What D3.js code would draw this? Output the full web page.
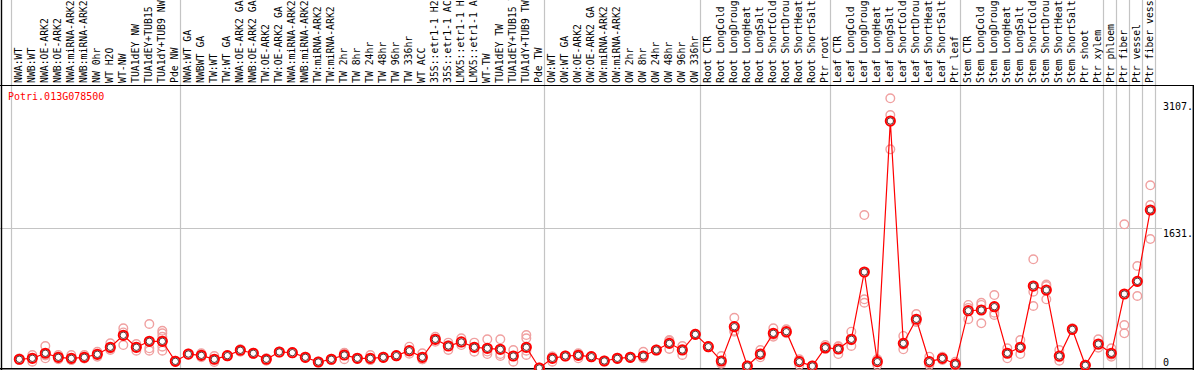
<!DOCTYPE html>
<html><head><meta charset="utf-8">
<script src="https://cdn.jsdelivr.net/npm/d3@7"></script>
<style>
html,body{margin:0;padding:0;background:#fff;}
svg{display:block;}
text{font-family:"DejaVu Sans Mono",monospace;}
</style></head>
<body>
<script>
const geneId = "Potri.013G078500";
const categories = [
"NWA:WT","NWB:WT","NWA:OE-ARK2","NWB:OE-ARK2","NWA:miRNA-ARK2","NWB:miRNA-ARK2","NW 0hr","WT H2O","WT-NW","TUA1dEY NW","TUA1dEY+TUB15 NW","TUA1dY+TUB9 NW","Pde NW",
"NWA:WT GA","NWBWT GA","TW:WT","TW:WT GA","NWA:OE-ARK2 GA","NWB:OE-ARK2 GA","TW:OE-ARK2","TW:OE-ARK2 GA","NWA:miRNA-ARK2 GA","NWB:miRNA-ARK2 GA","TW:miRNA-ARK2","TW:miRNA-ARK2 GA","TW 2hr","TW 8hr","TW 24hr","TW 48hr","TW 96hr","TW 336hr","WT ACC","35S::etr1-1 H2O","35S::etr1-1 ACC","LMX5::etr1-1 H2O","LMX5::etr1-1 ACC","WT-TW","TUA1dEY TW","TUA1dEY+TUB15 TW","TUA1dY+TUB9 TW","Pde TW",
"OW:WT","OW:WT GA","OW:OE-ARK2","OW:OE-ARK2 GA","OW:miRNA-ARK2","OW:miRNA-ARK2 GA","OW 2hr","OW 8hr","OW 24hr","OW 48hr","OW 96hr","OW 336hr",
"Root CTR","Root LongCold","Root LongDrought","Root LongHeat","Root LongSalt","Root ShortCold","Root ShortDrought","Root ShortHeat","Root ShortSalt","Ptr root",
"Leaf CTR","Leaf LongCold","Leaf LongDrought","Leaf LongHeat","Leaf LongSalt","Leaf ShortCold","Leaf ShortDrought","Leaf ShortHeat","Leaf ShortSalt","Ptr leaf",
"Stem CTR","Stem LongCold","Stem LongDrought","Stem LongHeat","Stem LongSalt","Stem ShortCold","Stem ShortDrought","Stem ShortHeat","Stem ShortSalt","Ptr shoot","Ptr xylem",
"Ptr phloem","Ptr fiber","Ptr vessel","Ptr fiber vessel"
];
const groupSizes = [13,28,12,10,10,11,1,1,1,1];
const means = [
102,113,172,125,113,125,160,242,382,242,312,312,78,
163,148,102,144,207,172,102,187,179,125,70,102,152,113,113,125,144,202,125,335,257,304,242,230,218,140,242,0,
113,140,148,132,82,113,125,140,210,288,210,393,
249,82,482,23,163,405,424,74,23,237,
222,335,1121,74,2884,288,569,74,113,47,
669,677,716,172,242,957,911,140,452,32,280,
172,864,1012,1845
];
const replicates = [
[102,93,110],[152,74,113],[257,113,146],[152,102,121],[152,93,94],[152,113,110],[190,132,158],[288,210,228],[463,268,415],[280,202,244],[514,230,202],[435,405,365,249,202],[78,72,84],
[163,158,168],[172,125,147],[140,70,96],[144,138,150],[218,190,213],[172,165,179],[113,85,108],[190,180,191],[179,172,186],[125,120,130],[70,65,75],[102,95,109],[102,175,179],[113,108,118],[152,93,94],[125,120,130],[144,138,150],[249,190,167],[172,102,101],[365,307,333],[296,210,265],[347,268,297],[296,190,240],[335,163,192],[335,163,140],[210,74,136],[385,347,202,152],[2,0,5],
[74,130,135],[140,134,146],[113,160,171],[132,126,138],[82,76,88],[113,107,119],[125,118,132],[190,113,117],[210,203,217],[327,222,315],[257,152,221],[393,385,401],
[249,242,256],[140,55,51],[587,435,424],[23,18,28],[210,125,154],[463,365,387],[452,405,415],[102,35,85],[23,18,28],[268,222,221],
[163,250,253],[424,257,324],[1786,802,762],[102,35,85],[3149,2954,2553],[374,218,272],[630,540,537],[132,35,55],[132,93,114],[74,23,44],
[736,569,702],[762,736,522],[852,646,619],[230,113,173],[327,163,236],[1269,891,724],[957,802,974],[210,85,125],[452,440,464],[32,27,37],[335,268,237],
[230,132,154],[1678,502,405],[1191,841,1004],[2133,1903,1506]
];
const tickValues = [3107, 1631, 0];
const tickLabels = ["3107.", "1631.", "0"];
const yMax = 3293;

const W = 1194, H = 370;
const plotTop = 86, plotBottom = 368, plotLeft = 11, plotRight = 1155;

const svg = d3.select("body").append("svg").attr("width", W).attr("height", H);

const x = d3.scaleBand().domain(d3.range(categories.length)).range([plotLeft, plotRight]);
const cx = i => x(i) + x.bandwidth() * 0.64;
const y = d3.scaleLinear().domain([0, yMax]).range([plotBottom, plotTop]);

// group separator lines
const starts = [0];
groupSizes.forEach((s, k) => starts.push(starts[k] + s));
svg.append("g").selectAll("line").data(starts).join("line")
  .attr("x1", d => (d < categories.length ? x(d) : plotRight) + 0.5)
  .attr("x2", d => (d < categories.length ? x(d) : plotRight) + 0.5)
  .attr("y1", 0).attr("y2", plotBottom)
  .attr("stroke", "#c4c4c4").attr("stroke-width", 1.2);

// horizontal grid line (middle tick)
svg.append("line")
  .attr("x1", 0).attr("x2", 1162)
  .attr("y1", Math.round(y(tickValues[1])) + 0.5).attr("y2", Math.round(y(tickValues[1])) + 0.5)
  .attr("stroke", "#c4c4c4").attr("stroke-width", 1.2);

// frame lines
svg.append("line").attr("x1", 0).attr("x2", W).attr("y1", 85.5).attr("y2", 85.5).attr("stroke", "#000").attr("stroke-width", 1.2);
svg.append("line").attr("x1", 0).attr("x2", W).attr("y1", 368.8).attr("y2", 368.8).attr("stroke", "#000").attr("stroke-width", 1.6);
svg.append("line").attr("x1", 1.5).attr("x2", 1.5).attr("y1", 0).attr("y2", H).attr("stroke", "#000").attr("stroke-width", 1.4);
svg.append("line").attr("x1", 1193.3).attr("x2", 1193.3).attr("y1", 85).attr("y2", H).attr("stroke", "#000").attr("stroke-width", 1.4);

// category labels
svg.append("g").selectAll("text").data(categories).join("text")
  .attr("transform", (d, i) => `translate(${cx(i) + 2.6},83) rotate(-90)`)
  .attr("font-size", "9.8px").attr("fill", "#000")
  .text(d => d);

// gene id
svg.append("text").attr("x", 8).attr("y", 100).attr("font-size", "10px").attr("fill", "#f00").text(geneId);

// right axis labels
svg.append("g").selectAll("text").data(tickValues).join("text")
  .attr("x", 1163)
  .attr("y", (d, i) => d === 0 ? y(d) - 2 : y(d) + 8.3)
  .attr("font-size", "10px").attr("fill", "#000")
  .text((d, i) => tickLabels[i]);

// replicate circles
const reps = [];
replicates.forEach((arr, i) => arr.forEach(v => reps.push({i, v})));
svg.append("g").selectAll("circle").data(reps).join("circle")
  .attr("cx", d => cx(d.i)).attr("cy", d => y(d.v)).attr("r", 4.3)
  .attr("fill", "none").attr("stroke", "#f0a0a0").attr("stroke-width", 1.4);

// mean line
svg.append("path").datum(means)
  .attr("d", d3.line().x((d, i) => cx(i)).y(d => y(d)))
  .attr("fill", "none").attr("stroke", "#f00").attr("stroke-width", 1.2);

// mean markers
const mg = svg.append("g").selectAll("g").data(means).join("g")
  .attr("transform", (d, i) => `translate(${cx(i)},${y(d)})`);
mg.append("circle").attr("r", 4.6).attr("fill", "#fff").attr("stroke", "#f00").attr("stroke-width", 2);
mg.append("circle").attr("r", 3.2).attr("fill", "none").attr("stroke", "#300").attr("stroke-width", 0.8);
</script>
</body></html>
